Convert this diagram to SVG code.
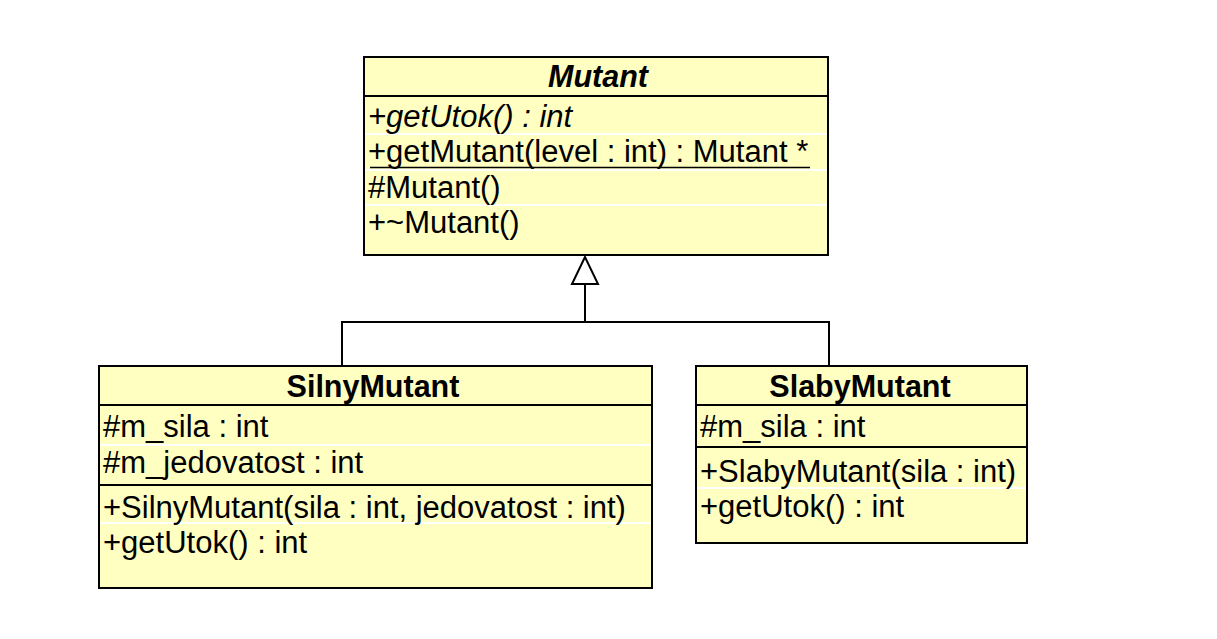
<svg xmlns="http://www.w3.org/2000/svg" width="1217" height="639" viewBox="0 0 1217 639">
<style>
.box{fill:#ffffc2;stroke:#000;stroke-width:2}
.sep{stroke:#000;stroke-width:1.8}
.wsep{stroke:#fff;stroke-width:2}
.t{font-family:"Liberation Sans",Arial,Helvetica,sans-serif;font-size:31px;fill:#000}
.title{font-weight:bold;text-anchor:middle;font-size:30.5px}
.line{fill:none;stroke:#000;stroke-width:2}
</style>
<rect width="1217" height="639" fill="#fff"/>
<g id="connectors">
<polyline class="line" points="342,366 342,322 829,322 829,366"/>
<line class="line" x1="585" y1="322" x2="585" y2="284"/>
<polygon points="585,257 572,284 598,284" fill="#fff" stroke="#000" stroke-width="2"/>
</g>
<g id="Mutant">
<rect class="box" x="364" y="57" width="464" height="198"/>
<line class="sep" x1="364" y1="96" x2="828" y2="96"/>
<line class="wsep" x1="365" y1="134" x2="827" y2="134"/>
<line class="wsep" x1="365" y1="170" x2="827" y2="170"/>
<line class="wsep" x1="365" y1="205" x2="827" y2="205"/>
<text class="t title" x="598" y="87" font-style="italic">Mutant</text>
<text class="t" x="368" y="127" font-style="italic">+getUtok() : int</text>
<text class="t" x="368" y="162">+getMutant(level : int) : Mutant *</text>
<line x1="370" y1="167.5" x2="810" y2="167.5" stroke="#000" stroke-width="1.5"/>
<text class="t" x="368" y="198">#Mutant()</text>
<text class="t" x="368" y="233">+~Mutant()</text>
</g>
<g id="SilnyMutant">
<rect class="box" x="99" y="366" width="553" height="222"/>
<line class="sep" x1="99" y1="405" x2="652" y2="405"/>
<line class="wsep" x1="100" y1="445" x2="651" y2="445"/>
<line class="sep" x1="99" y1="485" x2="652" y2="485"/>
<line class="wsep" x1="100" y1="523" x2="651" y2="523"/>
<text class="t title" x="373" y="397">SilnyMutant</text>
<text class="t" x="103" y="437">#m_sila : int</text>
<text class="t" x="103" y="473">#m_jedovatost : int</text>
<text class="t" x="103" y="518">+SilnyMutant(sila : int, jedovatost : int)</text>
<text class="t" x="103" y="553">+getUtok() : int</text>
</g>
<g id="SlabyMutant">
<rect class="box" x="696" y="366" width="331" height="177"/>
<line class="sep" x1="696" y1="405" x2="1027" y2="405"/>
<line class="sep" x1="696" y1="447" x2="1027" y2="447"/>
<line class="wsep" x1="697" y1="488" x2="1026" y2="488"/>
<text class="t title" x="860" y="397">SlabyMutant</text>
<text class="t" x="700" y="437">#m_sila : int</text>
<text class="t" x="700" y="482">+SlabyMutant(sila : int)</text>
<text class="t" x="700" y="517">+getUtok() : int</text>
</g>
</svg>
